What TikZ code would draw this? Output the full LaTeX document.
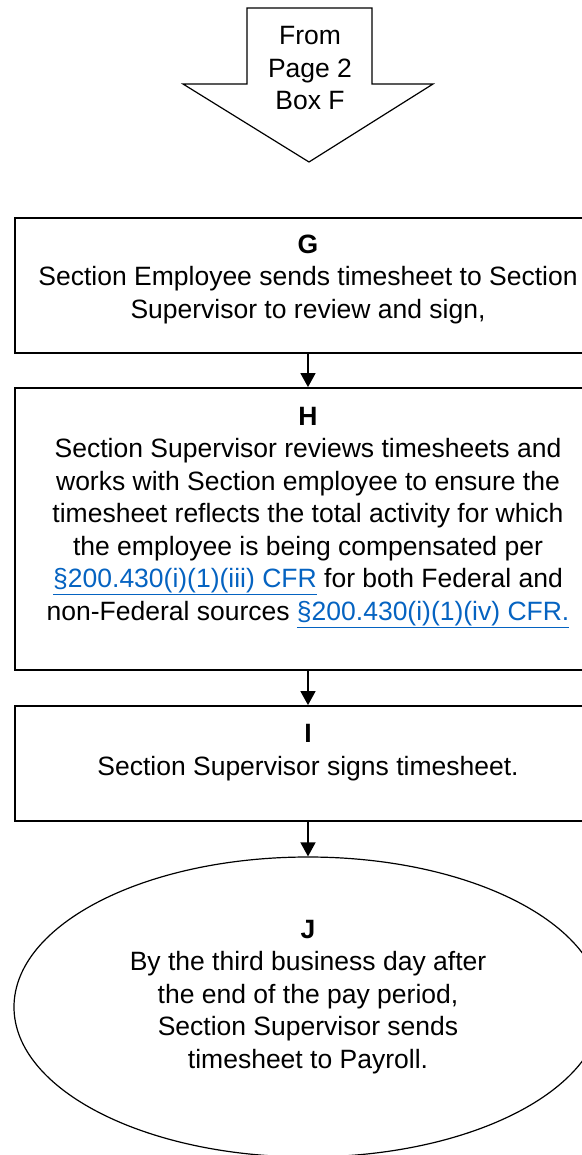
\documentclass[tikz,border=0pt]{standalone}
\usepackage{fontspec}
\setmainfont{Liberation Sans}
\usetikzlibrary{arrows.meta,shapes.geometric}
\definecolor{linkblue}{HTML}{0563C1}
\newcommand{\lnk}[1]{\textcolor{linkblue}{\underline{#1}}}
\begin{document}
\begin{tikzpicture}[x=1pt,y=-1pt,
  txt/.style={align=center,anchor=base,inner sep=0pt,font=\fontsize{26.5}{32.5}\selectfont},
  stepbox/.style={draw,line width=1.8pt,rectangle,minimum width=586pt,inner sep=0pt},
  conn/.style={line width=1.5pt,-{Triangle[width=15pt,length=14pt]}}]
\useasboundingbox (0,0) rectangle (581,1155);
% top off-page arrow
\draw[line width=1.2pt,line join=miter] (247,8) -- (372,8) -- (372,84) -- (433,84) -- (309,162) -- (183,84) -- (247,84) -- cycle;
\node[txt] (from) at (310,110) {From\\Page 2\\Box F};
% boxes
\node[stepbox,minimum height=135pt] (G) at (308,285.5) {};
\node[txt] (Gt) at (308,318) {\textbf{G}\\Section Employee sends timesheet to Section\\Supervisor to review and sign,};
\node[stepbox,minimum height=282pt] (H) at (308,529) {};
\node[txt] (Ht) at (308,620) {\textbf{H}\\Section Supervisor reviews timesheets and\\works with Section employee to ensure the\\timesheet reflects the total activity for which\\the employee is being compensated per\\\lnk{§200.430(i)(1)(iii) CFR} for both Federal and\\non-Federal sources \lnk{§200.430(i)(1)(iv) CFR.}};
\node[stepbox,minimum height=115pt] (I) at (308,763.5) {};
\node[txt] (It) at (308,775) {\textbf{I}\\Section Supervisor signs timesheet.};
\node[draw,line width=1.2pt,ellipse,minimum width=588pt,minimum height=300pt,inner sep=0pt] (J) at (308,1007) {};
\node[txt] (Jt) at (308,1068) {\textbf{J}\\By the third business day after\\the end of the pay period,\\Section Supervisor sends\\timesheet to Payroll.};
% connectors
\draw[conn] (G.south) -- (H.north);
\draw[conn] (H.south) -- (I.north);
\draw[conn] (I.south) -- (J.north);
\end{tikzpicture}
\end{document}
